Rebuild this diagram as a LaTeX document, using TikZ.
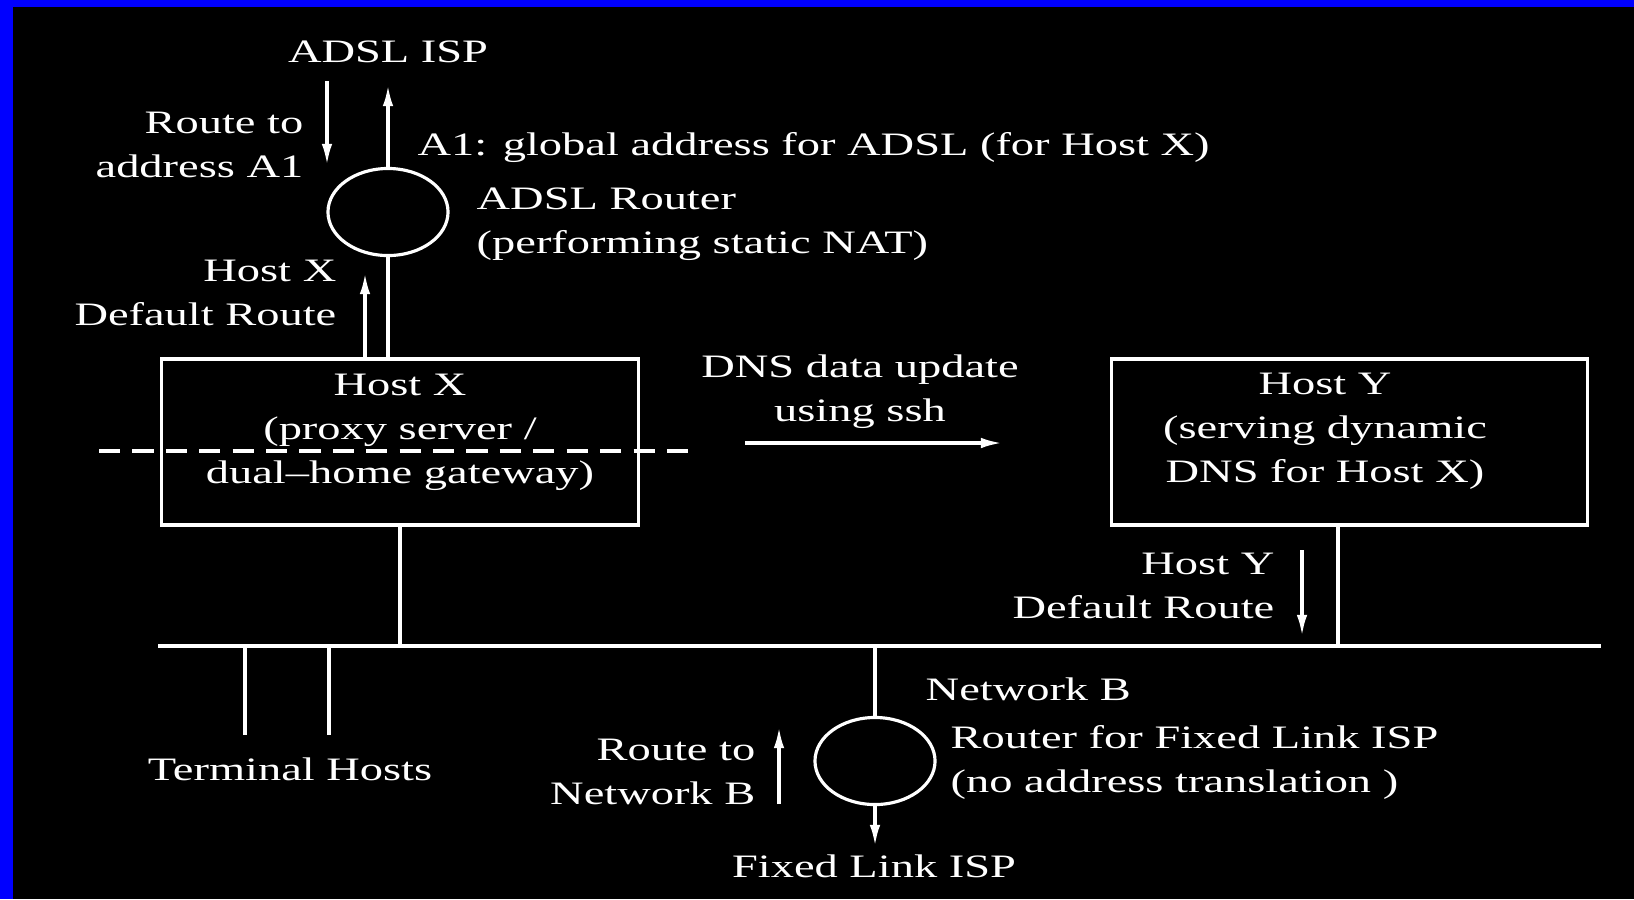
\documentclass[tikz,border=0pt]{standalone}
\usepackage{fontspec}
\setmainfont{Liberation Serif}[FakeStretch=1.42]
\usetikzlibrary{arrows.meta,shapes.geometric}

\tikzset{
  wire/.style={white, line width=0.9pt},
  flow/.style={wire, -{Latex[length=6pt,width=3pt]}},
  router/.style={draw=white, line width=0.9pt, ellipse, minimum width=1.2cm, minimum height=0.87cm, inner sep=0pt},
  hostbox/.style={draw=white, line width=0.9pt, minimum width=4.76cm, minimum height=1.66cm, inner sep=0pt},
  lbl/.style={text=white, inner sep=0pt, font=\fontsize{9.3}{12.5}\selectfont},
}

\begin{document}
\begin{tikzpicture}[x=0.01cm, y=-0.01cm]
  % frame
  \fill[black] (0,0) rectangle (1634,899);
  \fill[blue] (0,0) rectangle (1634,7);
  \fill[blue] (0,0) rectangle (13,899);
  \useasboundingbox (0,0) rectangle (1634,899);

  % ADSL side
  \node[lbl] (isp) at (388,52) {ADSL ISP};
  \node[router] (adsl) at (388,212) {};
  \node[lbl, anchor=east, align=right] (toa1) at (304,145) {Route to\\address A1};
  \node[lbl, anchor=west] (a1) at (417,148) {A1: global address for ADSL (for Host X)};
  \node[lbl, anchor=west, align=left] (adsltxt) at (476,224) {ADSL Router\\(performing static NAT)};
  \node[lbl, anchor=east, align=right] (xdef) at (337,293) {Host X\\Default Route};
  \coordinate (a1in) at (327,81);
  \coordinate (a1out) at (327,165);
  \draw[flow] (a1in) -- (a1out);
  \draw[flow] (adsl.north) -- (adsl.north |- 0,85);

  % hosts
  \node[hostbox] (hostx) at (400,442) {};
  \node[lbl, align=center] (hostxtxt) at (400,432) {Host X\\(proxy server /\\dual--home gateway)};
  \node[hostbox] (hosty) at (1349.5,442) {};
  \node[lbl, align=center] (hostytxt) at (1325,431) {Host Y\\(serving dynamic\\DNS for Host X)};
  \draw[wire] (adsl.south) -- (adsl.south |- hostx.north);
  \coordinate (xup) at (365,273);
  \draw[flow] (xup |- hostx.north) -- (xup);

  % dashed split through host X
  \coordinate (splitl) at (99,451);
  \coordinate (splitr) at (693,451);
  \draw[wire, dash pattern=on 6pt off 3.5pt] (splitl) -- (splitr);

  % DNS update
  \node[lbl, align=center] (dns) at (860,392) {DNS data update\\using ssh};
  \coordinate (dnsl) at (745,443);
  \coordinate (dnsr) at (1002,443);
  \draw[flow] (dnsl) -- (dnsr);

  % network B bus
  \coordinate (busl) at (158,646);
  \coordinate (busr) at (1601,646);
  \draw[wire] (busl) -- (busr);
  \draw[wire] (hostx.south) -- (hostx.south |- busl);
  \coordinate (ytap) at (1338,646);
  \draw[wire] (hosty.south -| ytap) -- (ytap);
  \node[lbl, anchor=east, align=right] (ydef) at (1275,586) {Host Y\\Default Route};
  \coordinate (ydn) at (1302,550);
  \draw[flow] (ydn) -- (ydn |- 0,636);

  % terminal hosts
  \coordinate (t1) at (245,735);
  \coordinate (t2) at (329,735);
  \draw[wire] (t1 |- busl) -- (t1);
  \draw[wire] (t2 |- busl) -- (t2);
  \node[lbl] (term) at (290,769) {Terminal Hosts};

  % fixed link side
  \node[router] (fixed) at (875,761) {};
  \draw[wire] (fixed.north |- busl) -- (fixed.north);
  \node[lbl, anchor=west] (netb) at (925,689) {Network B};
  \node[lbl, anchor=west, align=left] (fixedtxt) at (950,762) {Router for Fixed Link ISP\\(no address translation )};
  \node[lbl, anchor=east, align=right] (tob) at (756,772) {Route to\\Network B};
  \coordinate (bup) at (779,727);
  \draw[flow] (bup |- 0,804) -- (bup);
  \node[lbl] (fisp) at (874,866) {Fixed Link ISP};
  \draw[flow] (fixed.south) -- (fixed.south |- 0,846);
\end{tikzpicture}
\end{document}
